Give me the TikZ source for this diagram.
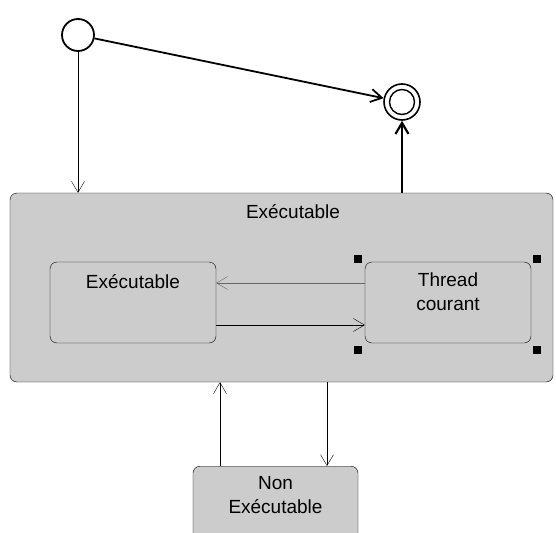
\documentclass[tikz,border=0pt]{standalone}
\usepackage{fontspec}
\setmainfont{Liberation Sans}
\usetikzlibrary{arrows.meta}

\begin{document}
\begin{tikzpicture}[x=1pt, y=-1pt,
    font=\fontsize{19}{24}\selectfont,
    etat/.style ={rectangle, rounded corners=7pt, draw, fill=black!20},
    debut/.style ={circle, draw, line width=1.8pt, minimum size=32pt, inner sep=0pt},
    fin/.style ={circle, draw, line width=1.6pt, minimum size=36pt, inner sep=0pt},
    fleche/.style ={-{Straight Barb[length=11pt,width=13pt]}},
    poignee/.style ={fill=black, minimum size=8pt, inner sep=0pt}]
   \useasboundingbox (0,0) rectangle (556,532);

   \node[debut] (init)  at (78,35)  {};
   \node[fin] (final)  at (402,102)  {};
   \draw[line width=1.4pt] (final) circle (12.5pt);

   \node[etat, minimum width=543pt, minimum height=189pt] (outer)  at (281.5,287.5)  {};
   \node (titre)  at (293,212)  {Exécutable};
   \node[etat, minimum width=166pt, minimum height=81pt,
         label={[anchor=north,yshift=-9pt]north:Exécutable}] (exec)  at (133,302.5)  {};
   \node[etat, minimum width=166pt, minimum height=81pt,
         label={[align=center,yshift=11pt]center:Thread\\courant}] (thread)  at (448,302.5)  {};
   \node[etat, minimum width=165pt, minimum height=100pt, anchor=north,
         label={[align=center,anchor=north,yshift=-7pt]north:Non\\Exécutable}] (nonexec)  at (275.5,466)  {};

   % poignees de selection
   \foreach \px/\py in {358/259, 537/259, 358/350, 537/350}
     \node[poignee] at (\px,\py) {};

   \draw[fleche, line width=1.8pt] (init) to (final);
   \draw[fleche] (init.south) to (init.south |- outer.north);
   \draw[fleche, line width=2.2pt] (outer.north -| final) to (final.south);

   \draw[fleche, black!60] ([yshift=19.5pt]thread.west) to ([yshift=19.5pt]thread.west -| exec.east);
   \draw[fleche] ([yshift=-22.5pt]exec.east) to ([yshift=-22.5pt]exec.east -| thread.west);

   \draw[fleche] ([xshift=-55.5pt]nonexec.north) to ([xshift=-55.5pt]nonexec.north |- outer.south);
   \draw[fleche] ([xshift=51.5pt]nonexec.north |- outer.south) to ([xshift=51.5pt]nonexec.north);
 \end{tikzpicture}
\end{document}
